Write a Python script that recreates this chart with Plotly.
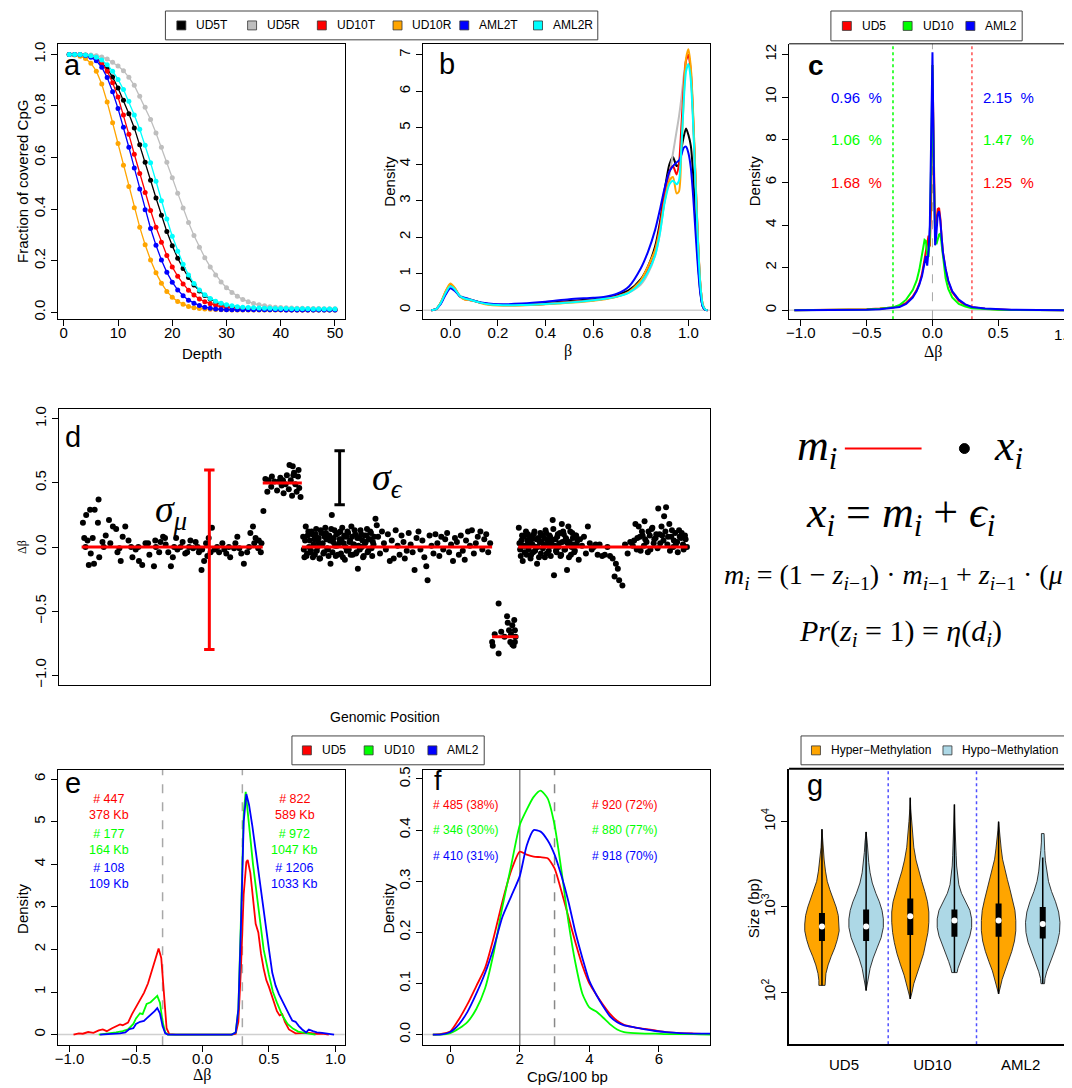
import plotly.graph_objects as go

W, H = 1072, 1088          # target page size
OFF = 8                    # page body margin in the browser
FW, FH = W - OFF, H - OFF  # figure size
F = "Liberation Sans"
SERIF = "Liberation Serif"

# ---------------- panel a : coverage curves ----------------
DEPTH = list(range(1, 51))
COV_UD5T = [1.000,1.000,0.999,0.997,0.992,0.983,0.968,0.945,0.912,0.870,
            0.822,0.770,0.715,0.650,0.582,0.512,0.443,0.376,0.313,0.258,
            0.210,0.170,0.135,0.106,0.083,0.065,0.051,0.040,0.032,0.026,
            0.022,0.019,0.016,0.015,0.014,0.013,0.012,0.012,0.011,0.011,
            0.011,0.010,0.010,0.010,0.010,0.010,0.010,0.010,0.010,0.010]
COV_UD5R = [1.000,1.000,1.000,0.999,0.998,0.995,0.990,0.982,0.970,0.955,
            0.937,0.911,0.880,0.838,0.795,0.748,0.695,0.640,0.582,0.522,
            0.462,0.404,0.348,0.298,0.252,0.212,0.176,0.145,0.118,0.095,
            0.077,0.062,0.050,0.041,0.034,0.029,0.025,0.022,0.020,0.019,
            0.018,0.017,0.016,0.016,0.015,0.015,0.015,0.014,0.014,0.014]
COV_UD10T = [1.000,1.000,0.999,0.997,0.993,0.984,0.966,0.935,0.890,0.835,
             0.765,0.690,0.613,0.538,0.465,0.395,0.330,0.272,0.220,0.176,
             0.140,0.110,0.086,0.067,0.052,0.041,0.033,0.027,0.022,0.019,
             0.017,0.015,0.014,0.013,0.012,0.012,0.011,0.011,0.011,0.010,
             0.010,0.010,0.010,0.010,0.010,0.010,0.010,0.010,0.010,0.010]
COV_UD10R = [1.000,0.998,0.993,0.984,0.966,0.935,0.885,0.815,0.735,0.655,
             0.570,0.488,0.405,0.330,0.262,0.203,0.153,0.113,0.081,0.058,
             0.042,0.031,0.023,0.018,0.015,0.013,0.012,0.011,0.010,0.010,
             0.009,0.009,0.009,0.009,0.009,0.009,0.009,0.009,0.009,0.009,
             0.009,0.009,0.009,0.009,0.009,0.009,0.009,0.009,0.009,0.009]
COV_AML2T = [1.000,1.000,0.999,0.996,0.989,0.975,0.950,0.910,0.855,0.790,
             0.718,0.640,0.560,0.478,0.398,0.325,0.260,0.203,0.155,0.117,
             0.087,0.064,0.047,0.035,0.026,0.020,0.016,0.013,0.011,0.010,
             0.010,0.010,0.010,0.010,0.010,0.010,0.010,0.010,0.010,0.010,
             0.009,0.009,0.009,0.009,0.009,0.009,0.009,0.009,0.009,0.009]
COV_AML2R = [1.000,1.000,1.000,0.998,0.995,0.989,0.978,0.960,0.935,0.903,
             0.864,0.818,0.765,0.710,0.648,0.580,0.508,0.433,0.362,0.295,
             0.237,0.186,0.145,0.112,0.087,0.068,0.054,0.043,0.035,0.029,
             0.025,0.022,0.020,0.019,0.018,0.017,0.016,0.016,0.015,0.015,
             0.015,0.014,0.014,0.014,0.014,0.013,0.013,0.013,0.013,0.013]

# ---------------- panel b : beta densities ----------------
BETA_X = [-0.08,-0.06,-0.04,-0.02,0.0,0.02,0.04,0.06,0.08,0.1,
          0.13,0.16,0.2,0.3,0.4,0.5,0.6,0.65,0.7,0.75,
          0.8,0.83,0.86,0.88,0.9,0.92,0.935,0.95,0.96,0.97,
          0.98,0.99,1.0,1.01,1.02,1.03,1.04,1.05,1.06,1.07,1.08]
DENS_UD5T = [0.0,0.03,0.2,0.48,0.68,0.55,0.38,0.33,0.3,0.26,
             0.2,0.17,0.15,0.15,0.2,0.25,0.3,0.34,0.42,0.55,
             0.85,1.2,1.75,2.4,3.3,4.0,4.2,3.95,4.0,4.4,
             4.75,4.98,4.8,4.5,3.7,2.5,1.35,0.5,0.1,0.01,0.0]
DENS_UD5R = [0.0,0.03,0.2,0.48,0.7,0.58,0.4,0.34,0.3,0.26,
             0.2,0.17,0.15,0.14,0.17,0.22,0.27,0.31,0.37,0.48,
             0.7,1.0,1.5,2.1,3.0,3.7,4.3,4.9,5.3,5.8,
             6.4,6.85,7.0,6.6,5.3,3.6,1.9,0.7,0.15,0.02,0.0]
DENS_UD10T = [0.0,0.03,0.2,0.5,0.7,0.58,0.38,0.3,0.28,0.25,
              0.2,0.16,0.14,0.14,0.17,0.22,0.27,0.31,0.38,0.5,
              0.8,1.15,1.65,2.3,3.2,3.8,3.95,3.72,4.0,5.0,
              6.1,6.85,7.0,6.5,5.2,3.5,1.9,0.7,0.15,0.02,0.0]
DENS_UD10R = [0.0,0.03,0.22,0.52,0.73,0.6,0.38,0.29,0.28,0.25,
              0.19,0.15,0.13,0.13,0.16,0.2,0.26,0.3,0.37,0.5,
              0.82,1.2,1.65,2.2,3.0,3.55,3.65,3.2,3.25,4.3,
              5.8,6.9,7.15,6.65,5.35,3.6,1.95,0.72,0.15,0.02,0.0]
DENS_AML2T = [0.0,0.03,0.17,0.42,0.6,0.52,0.38,0.34,0.3,0.26,
              0.21,0.18,0.16,0.18,0.23,0.3,0.34,0.37,0.45,0.65,
              1.15,1.6,2.2,2.75,3.35,3.8,3.95,4.05,4.1,4.25,
              4.45,4.48,4.3,3.9,3.1,2.1,1.15,0.45,0.1,0.01,0.0]
DENS_AML2R = [0.0,0.03,0.2,0.47,0.66,0.56,0.39,0.32,0.29,0.25,
              0.2,0.16,0.14,0.14,0.17,0.21,0.27,0.31,0.37,0.48,
              0.75,1.05,1.5,2.1,2.95,3.45,3.55,3.45,3.55,4.4,
              5.7,6.55,6.75,6.3,5.05,3.4,1.85,0.68,0.14,0.02,0.0]

# ---------------- panel c : delta-beta densities ----------------
DB_X = [-1.05,-0.8,-0.6,-0.5,-0.4,-0.3,-0.25,-0.2,-0.15,-0.12,-0.1,-0.08,-0.06,-0.05,
        -0.04,-0.03,-0.02,-0.01,0.0,0.01,0.02,0.03,0.04,0.05,0.06,0.07,0.08,0.1,
        0.12,0.15,0.2,0.25,0.3,0.4,0.5,0.6,0.8,1.05]
DB_UD5 = [0,0.01,0.03,0.05,0.08,0.13,0.2,0.35,0.65,0.95,1.25,1.7,2.4,2.8,
          3.2,3.5,3.0,5.0,11.5,6.0,3.5,4.2,4.75,4.8,4.3,3.4,2.7,1.9,
          1.35,0.85,0.45,0.25,0.15,0.07,0.04,0.02,0.01,0]
DB_UD10 = [0,0.005,0.02,0.04,0.07,0.14,0.25,0.5,0.95,1.4,1.9,2.6,3.3,3.25,
           2.6,2.5,3.5,7.0,11.5,6.5,3.6,3.1,3.3,3.55,3.6,3.1,2.4,1.5,
           1.0,0.6,0.3,0.18,0.1,0.05,0.03,0.02,0.01,0]
DB_AML2 = [0,0.005,0.015,0.03,0.05,0.1,0.16,0.3,0.6,0.9,1.2,1.6,2.2,2.55,
           2.1,2.8,4.0,8.0,12.1,7.0,3.05,3.6,4.5,4.65,4.2,3.4,2.7,1.95,
           1.4,0.9,0.5,0.28,0.16,0.08,0.045,0.025,0.01,0]
PCT_LEFT = ["1.68  %", "1.06  %", "0.96  %"]
PCT_RIGHT = ["1.25  %", "1.47  %", "2.15  %"]
PCT_Y = [6, 8, 10]

# ---------------- panel d : segmentation example ----------------
D1_X = [3.7,4.2,4.8,5.5,6.1,6.0,3.9,4.4,4.6,5.4,6.2,4.9,6.7,7.2,7.7,8.3,8.8,9.3,9.5,10.2,
        10.7,11.3,11.8,12.3,12.8,13.3,13.9,14.6,14.9,15.6,16.3,16.8,17.2,17.7,18.2,19.0,19.4,20.0,20.6,21.0,
        21.5,21.9,22.3,22.6,23.0,23.5,23.9,24.6,25.1,25.7,26.3,26.9,27.4,28.0,28.4,28.9,29.4,29.8,30.2,30.6,
        31.0,31.1,31.4,
        4.1,5.2,6.9,7.9,9.0,11.1,12.2,13.7,15.4,16.0,17.5,18.7,19.7,20.2,21.3,22.0,22.8,23.3,24.3,25.4,
        26.1,27.1,27.7,29.2,30.0,30.7,18.0,16.4,14.8,9.8]
D1_Y = [0.19,0.25,0.29,0.29,0.37,0.19,0.07,0.05,-0.14,-0.13,-0.08,-0.05,0.04,0.09,0.21,0.16,0.14,-0.01,-0.11,0.16,
        0.05,-0.08,-0.02,-0.11,-0.14,0.03,-0.06,-0.15,0.0,0.04,0.07,-0.04,-0.15,0.0,-0.02,0.04,-0.05,0.0,-0.01,0.04,
        -0.04,-0.18,-0.11,0.03,0.07,0.15,-0.02,-0.04,0.03,-0.05,-0.08,-0.01,0.08,-0.05,-0.13,-0.04,0.11,0.16,0.07,-0.01,
        -0.04,0.03,0.28,
        0.0,0.07,0.0,0.03,-0.04,0.0,0.0,0.03,-0.04,0.08,-0.08,0.0,-0.04,0.05,0.0,-0.02,-0.07,-0.04,0.0,-0.02,
        0.0,0.03,-0.01,0.0,0.03,0.05,0.07,0.02,0.05,0.08]
D2_X = [31.7,32.2,32.0,32.7,33.1,33.5,34.0,34.2,34.5,35.0,35.4,35.6,35.9,36.1,36.3,36.5,36.7,36.9,37.1,
        35.3,35.8,34.8,33.8,32.6,34.4,36.8,36.0]
D2_Y = [0.53,0.52,0.43,0.55,0.51,0.44,0.54,0.48,0.42,0.56,0.64,0.52,0.63,0.58,0.49,0.43,0.55,0.46,0.39,
        0.45,0.40,0.49,0.51,0.47,0.52,0.60,0.56]
D3_X = [37.5,37.7,37.9,38.1,38.3,38.5,38.7,38.9,39.1,39.3,
        39.5,39.7,39.9,40.1,40.3,40.5,40.7,40.9,41.1,41.3,
        41.5,41.7,41.9,42.1,42.3,42.5,42.7,42.9,43.1,43.3,
        43.5,43.7,43.9,44.1,44.3,44.5,44.7,44.9,45.1,45.3,
        45.5,45.7,45.9,46.1,46.3,46.5,46.7,46.9,47.1,47.3,
        47.5,47.7,47.9,48.1,48.3,48.6,48.8,49.0,49.3,49.6,
        49.9,50.2,50.5,50.8,51.1,51.4,51.7,52.0,52.3,52.6,
        52.9,53.1,53.4,53.7,54.0,54.3,54.6,54.9,55.2,55.5,
        55.8,56.1,56.4,56.6,56.9,57.2,57.5,57.8,58.1,58.4,
        58.7,59.0,59.3,59.6,59.9,60.2,60.5,60.8,61.1,61.4,
        61.7,62.0,62.3,62.5,62.8,63.1,63.4,63.7,64.0,64.3,
        64.7,65.0,65.3,65.6,65.9,66.2,
        37.6,37.8,38.0,38.2,38.4,38.6,38.8,39.0,39.2,39.4,
        39.6,39.8,40.0,40.2,40.4,40.6,40.8,41.0,41.2,41.4,
        41.6,41.8,42.0,42.2,42.4,42.6,42.8,43.0,43.2,43.4,
        43.6,43.8,44.0,44.2,44.4,44.6,44.8,45.0,45.2,45.4,
        45.6,45.8,46.0,46.2,46.4,46.6,46.8,47.0,47.2,47.4,
        47.6,47.8,48.0,48.2,48.4]
D3_Y = [0.08,-0.08,0.16,-0.05,0.12,0.05,-0.03,0.1,0.02,-0.06,
        0.14,0.0,0.07,-0.09,0.11,0.03,-0.04,0.15,0.06,-0.02,
        0.09,-0.13,0.25,0.04,0.13,-0.07,0.01,0.11,0.06,-0.05,
        0.15,0.03,-0.1,0.08,0.12,-0.02,0.05,0.16,-0.06,0.02,
        0.1,-0.04,-0.17,0.07,0.13,0.0,-0.08,0.09,0.04,0.14,
        -0.03,0.06,0.11,-0.07,0.02,0.22,0.17,0.08,-0.05,0.12,
        0.03,-0.02,0.1,-0.11,0.05,-0.09,0.13,0.01,-0.06,0.09,
        0.04,-0.09,-0.03,0.11,0.02,-0.04,-0.18,0.07,0.12,-0.02,
        0.05,-0.08,-0.15,-0.26,0.09,0.01,-0.05,0.1,0.03,-0.07,
        0.08,-0.02,0.06,0.11,-0.04,0.02,-0.11,0.07,0.04,-0.06,
        0.09,-0.03,-0.10,0.05,0.12,0.01,0.13,-0.05,0.03,0.08,
        0.12,-0.02,0.06,0.1,-0.04,0.03,
        -0.02,0.05,-0.07,0.09,0.0,-0.04,0.12,-0.08,0.06,0.1,
        -0.03,0.04,-0.09,0.13,0.02,-0.05,0.08,0.11,-0.01,-0.07,
        0.05,0.14,-0.04,0.07,0.01,0.1,-0.06,0.03,0.12,0.06,
        -0.08,0.09,0.0,-0.03,0.11,0.04,-0.06,0.08,0.02,0.13,
        -0.05,0.07,0.01,-0.02,0.1,0.05,-0.07,0.03,0.09,-0.04,
        0.06,0.12,-0.01,0.04,0.08]
D4_X = [67.5,66.5,66.6,66.9,67.5,67.9,68.8,68.9,69.1,69.4,69.6,69.9,70.0,70.1,69.8,69.3,68.4,69.6,70.0]
D4_Y = [-0.44,-0.74,-0.77,-0.68,-0.83,-0.66,-0.54,-0.59,-0.65,-0.68,-0.76,-0.57,-0.65,-0.70,-0.77,-0.74,-0.70,-0.61,-0.74]
D5_X = [70.6,70.8,71.0,71.2,71.4,71.6,71.8,72.0,72.2,72.4,
        72.6,72.8,73.0,73.2,73.4,73.6,73.8,74.0,74.2,74.4,
        74.6,74.8,75.0,75.2,75.4,75.6,75.8,76.0,76.2,76.4,
        76.6,76.8,77.0,77.2,77.4,77.6,77.8,78.0,78.2,78.4,
        78.6,78.8,79.0,79.2,79.4,79.6,79.8,80.0,80.3,80.6,
        80.9,81.2,81.5,81.8,82.1,82.4,82.7,83.0,83.4,83.8,
        84.2,84.6,85.0,85.3,85.5,85.8,86.0,86.5,86.9,87.3,
        87.7,88.1,88.5,88.8,89.0,89.3,89.6,89.9,90.2,90.5,
        90.8,91.1,91.4,91.7,92.0,92.3,92.6,92.9,93.2,93.5,
        93.8,94.1,94.4,94.7,95.0,95.3,95.6,95.9,96.2,96.4,
        70.7,70.9,71.1,71.3,71.5,71.7,71.9,72.1,72.3,72.5,
        72.7,72.9,73.1,73.3,73.5,73.7,73.9,74.1,74.3,74.5,
        74.7,74.9,75.1,75.3,75.5,75.7,75.9,76.1,76.3,76.5,
        76.7,76.9,77.1,77.3,77.5,77.7,77.9,78.1,78.3,78.5,
        78.7,78.9,79.1,79.3,79.5,
        88.3,88.7,89.2,89.5,89.8,90.0,90.4,90.7,91.0,91.3,
        91.6,91.9,92.2,92.5,92.8,93.1,93.4,93.7,94.0,94.3,
        94.6,94.9,95.2,95.5,95.8,96.1]
D5_Y = [0.15,-0.02,0.05,-0.11,0.08,0.01,-0.06,0.1,0.03,-0.09,
        0.06,-0.04,0.12,0.0,-0.13,0.07,0.04,-0.05,0.09,0.02,
        -0.08,0.11,0.05,-0.03,0.08,0.01,0.21,-0.22,0.06,-0.04,
        0.1,0.03,-0.07,0.18,0.12,-0.02,0.07,-0.18,0.16,0.04,
        -0.06,0.11,0.02,-0.03,0.09,0.05,-0.1,0.06,0.01,0.08,
        -0.05,0.16,0.03,-0.02,0.0,0.02,-0.06,0.02,-0.07,-0.06,
        0.0,-0.07,-0.09,-0.23,-0.13,-0.17,-0.26,-0.30,0.02,-0.05,
        0.04,0.01,0.18,0.07,0.16,-0.03,0.09,0.20,0.04,0.12,
        -0.02,0.15,0.06,0.1,0.3,0.03,0.09,0.24,0.31,0.08,
        -0.03,0.13,0.05,0.02,-0.04,0.08,0.11,-0.02,0.06,0.0,
        0.03,-0.07,0.09,0.01,-0.04,0.12,0.05,-0.02,0.08,-0.06,
        0.02,0.1,-0.03,0.06,0.0,-0.08,0.11,0.04,-0.01,0.07,
        0.13,-0.05,0.02,0.09,-0.07,0.05,0.14,0.01,-0.03,0.08,
        0.0,0.11,-0.06,0.04,0.1,-0.02,0.06,0.03,-0.08,0.12,
        0.0,0.07,-0.04,0.09,0.02,
        0.05,-0.02,0.08,0.12,0.01,0.06,-0.04,0.09,0.14,0.03,
        0.07,-0.01,0.1,0.16,0.05,0.12,0.02,0.18,0.08,0.0,
        0.11,0.04,0.13,0.07,0.02,0.09]
SEG_START = [3.5, 31.3, 37.3, 66.5, 70.5]
SEG_END = [31.3, 37.3, 66.5, 70.5, 96.5]
SEG_MEAN = [0.0, 0.5, 0.0, -0.7, 0.0]
SIGMA_MU = [23.1, -0.8, 0.6]     # position, low, high
SIGMA_EPS = [43.1, 0.33, 0.75]

# ---------------- panel e : DMR delta-beta densities ----------------
E_UD5_X = [-0.97,-0.93,-0.9,-0.86,-0.82,-0.78,-0.75,-0.72,-0.68,-0.65,-0.62,-0.6,-0.56,-0.53,-0.5,-0.47,
           -0.44,-0.41,-0.38,-0.35,-0.33,-0.31,-0.29,-0.27,-0.25,-0.2,0.0,0.22,0.25,0.27,0.29,0.31,
           0.33,0.34,0.36,0.38,0.4,0.42,0.44,0.46,0.48,0.5,0.53,0.56,0.58,0.6,0.62,0.65,0.7,0.75,
           0.8,0.85,0.9,0.95]
E_UD5_Y = [0.0,0.03,0.02,0.06,0.04,0.1,0.12,0.08,0.15,0.2,0.24,0.22,0.28,0.48,0.65,0.8,
           0.98,1.2,1.5,1.82,2.02,1.8,0.9,0.15,0.01,0.0,0.0,0.0,0.02,0.3,1.6,3.3,
           4.05,4.1,3.8,3.2,2.6,2.4,1.9,1.55,1.28,1.12,0.85,0.55,0.45,0.48,0.3,0.12,0.03,0.03,
           0.04,0.02,0.02,0.0]
E_UD10_X = [-0.78,-0.7,-0.65,-0.6,-0.56,-0.52,-0.5,-0.47,-0.45,-0.42,-0.39,-0.36,-0.34,-0.32,-0.3,-0.28,
            -0.26,-0.2,0.0,0.22,0.25,0.27,0.29,0.31,0.325,0.34,0.36,0.38,0.4,0.43,0.46,0.5,
            0.53,0.56,0.6,0.64,0.68,0.72,0.76,0.8,0.85]
E_UD10_Y = [0.0,0.02,0.05,0.08,0.12,0.25,0.38,0.5,0.48,0.72,0.76,0.85,0.91,0.75,0.3,0.05,
            0.0,0.0,0.0,0.0,0.05,0.6,2.8,5.2,5.7,5.2,4.6,4.0,3.5,2.8,2.0,1.4,
            1.0,0.75,0.45,0.25,0.14,0.07,0.04,0.02,0.0]
E_AML2_X = [-0.77,-0.7,-0.62,-0.58,-0.55,-0.52,-0.5,-0.47,-0.44,-0.42,-0.39,-0.36,-0.34,-0.32,-0.3,-0.28,
            -0.26,-0.2,0.0,0.22,0.25,0.27,0.29,0.31,0.33,0.35,0.375,0.4,0.425,0.45,0.475,0.5,
            0.525,0.55,0.575,0.6,0.625,0.65,0.675,0.7,0.725,0.75,0.78,0.8,0.83,0.86,0.9,0.95,0.99]
E_AML2_Y = [0.0,0.01,0.03,0.05,0.13,0.15,0.25,0.3,0.32,0.38,0.46,0.55,0.62,0.5,0.2,0.03,
            0.0,0.0,0.0,0.0,0.05,0.6,2.6,5.0,5.65,5.4,4.9,4.3,3.7,3.1,2.5,2.0,
            1.45,1.15,0.95,0.78,0.64,0.48,0.33,0.3,0.2,0.12,0.05,0.12,0.08,0.05,0.04,0.02,0.0]
E_HYPO_COUNT = ["# 447", "# 177", "# 108"]
E_HYPO_SIZE = ["378 Kb", "164 Kb", "109 Kb"]
E_HYPER_COUNT = ["# 822", "# 972", "# 1206"]
E_HYPER_SIZE = ["589 Kb", "1047 Kb", "1033 Kb"]
E_TEXT_Y = [5.335, 4.535, 3.735]

# ---------------- panel f : CpG density ----------------
F_X = [-0.5,-0.3,0,0.25,0.5,0.75,1.0,1.25,1.5,1.75,2.0,2.2,2.4,2.6,2.8,3.0,3.2,3.4,3.6,3.8,
       4.0,4.2,4.4,4.6,4.8,5.0,5.3,5.6,5.9,6.2,6.6,7.0,7.5]
F_UD5 = [0.0,0.001,0.006,0.03,0.06,0.095,0.13,0.19,0.26,0.32,0.358,0.352,0.348,0.347,0.345,0.325,0.28,0.23,0.18,0.135,
         0.1,0.078,0.058,0.04,0.027,0.019,0.014,0.011,0.008,0.005,0.003,0.002,0.001]
F_UD10 = [0.0,0.0,0.003,0.012,0.025,0.05,0.09,0.16,0.25,0.33,0.41,0.44,0.465,0.477,0.462,0.41,0.32,0.22,0.14,0.08,
          0.053,0.045,0.033,0.02,0.01,0.005,0.003,0.002,0.002,0.001,0.001,0.001,0.0]
F_AML2 = [0.0,0.0,0.005,0.02,0.045,0.08,0.12,0.17,0.23,0.27,0.31,0.37,0.4,0.397,0.38,0.352,0.31,0.26,0.2,0.15,
          0.105,0.078,0.055,0.035,0.024,0.018,0.014,0.01,0.007,0.005,0.003,0.002,0.002]
F_LOW = ["# 485 (38%)", "# 346 (30%)", "# 410 (31%)"]
F_HIGH = ["# 920 (72%)", "# 880 (77%)", "# 918 (70%)"]
F_TEXT_Y = [0.45, 0.40, 0.35]

# ---------------- panel g : DMR size violins (log10 bp) ----------------
G_GROUPS = ["UD5", "UD10", "AML2"]
G_POS = [1, 2, 3, 4, 5, 6]
G_LEVELS = [
    [2.08,2.14,2.22,2.32,2.42,2.52,2.62,2.72,2.8,2.9,3.0,3.1,3.2,3.3,3.42,3.55,3.7,3.91],
    [2.02,2.1,2.18,2.28,2.4,2.52,2.64,2.76,2.86,2.96,3.06,3.16,3.28,3.4,3.52,3.64,3.76,3.88],
    [1.92,2.0,2.1,2.2,2.32,2.45,2.58,2.7,2.82,2.94,3.06,3.18,3.3,3.42,3.55,3.7,3.85,4.0,4.15,4.28],
    [2.23,2.28,2.36,2.46,2.56,2.66,2.76,2.86,2.96,3.06,3.16,3.26,3.36,3.48,3.6,3.72,3.85,4.0,4.2],
    [1.98,2.06,2.15,2.25,2.36,2.48,2.6,2.72,2.84,2.96,3.08,3.2,3.32,3.44,3.56,3.68,3.8,3.9,4.0],
    [2.1,2.16,2.24,2.34,2.46,2.58,2.7,2.82,2.94,3.06,3.18,3.3,3.42,3.54,3.66,3.76,3.86],
]
G_WIDTHS = [
    [0.07,0.07,0.09,0.14,0.21,0.29,0.35,0.39,0.39,0.37,0.32,0.25,0.18,0.12,0.08,0.05,0.02,0.0],
    [0.0,0.03,0.06,0.09,0.16,0.25,0.34,0.39,0.39,0.36,0.3,0.22,0.14,0.09,0.06,0.04,0.025,0.0],
    [0.0,0.04,0.08,0.14,0.22,0.3,0.36,0.4,0.42,0.42,0.39,0.33,0.26,0.19,0.13,0.08,0.05,0.03,0.01,0.0],
    [0.06,0.08,0.13,0.2,0.28,0.35,0.39,0.39,0.35,0.26,0.16,0.1,0.07,0.05,0.04,0.03,0.015,0.008,0.0],
    [0.0,0.04,0.08,0.14,0.22,0.3,0.36,0.39,0.39,0.37,0.32,0.26,0.2,0.14,0.09,0.06,0.03,0.015,0.0],
    [0.04,0.05,0.09,0.16,0.25,0.33,0.38,0.39,0.36,0.29,0.2,0.13,0.09,0.06,0.045,0.03,0.03],
]
G_Q1 = [2.6, 2.6, 2.67, 2.65, 2.65, 2.63]
G_Q3 = [2.93, 2.97, 3.1, 2.97, 3.04, 3.0]
G_MED = [2.77, 2.77, 2.89, 2.84, 2.84, 2.8]
G_MIN = [2.08, 2.02, 1.92, 2.23, 1.98, 2.1]
G_MAX = [3.91, 3.88, 4.28, 4.2, 4.0, 3.58]
G_COLORS = ["orange", "lightblue"] * 3

# =====================================================================
def fx(p):
    return (p - OFF) / FW


def fy(p):
    return 1 - (p - OFF) / FH


fig = go.Figure()
shapes, annots = [], []


def txt(x, y, s, size=15, color="black", family=F, xa="center", ya="middle", angle=0):
    annots.append(dict(x=fx(x), y=fy(y), xref="paper", yref="paper", text=s, showarrow=False,
                       xanchor=xa, yanchor=ya, textangle=angle,
                       font=dict(family=family, size=size, color=color)))


def dtxt(xr, yr, x, y, s, size=13, color="black", xa="center", family=F):
    annots.append(dict(x=x, y=y, xref=xr, yref=yr, text=s, showarrow=False, xanchor=xa,
                       yanchor="middle", font=dict(family=family, size=size, color=color)))


def xaxis(l, r, rng, anchor, **kw):
    d = dict(domain=[fx(l), min(fx(r), 1.0)], range=rng, anchor=anchor, showline=True, linecolor="black",
             linewidth=1, mirror=True, ticks="outside", ticklen=6, tickwidth=1, tickcolor="black",
             showgrid=False, zeroline=False, ticklabelstandoff=-6,
             tickfont=dict(family=F, size=15, color="black"))
    d.update(kw)
    return d


def yaxis(t, b, rng, anchor, **kw):
    d = dict(domain=[fy(b), fy(t)], range=rng, anchor=anchor, showline=True, linecolor="black",
             linewidth=1, mirror=True, ticks="outside", ticklen=6, tickwidth=1, tickcolor="black",
             showgrid=False, zeroline=False, tickangle=-90,
             tickfont=dict(family=F, size=15, color="black"))
    d.update(kw)
    return d


def legend(x0, x1, y0, y1, items, size=12):
    shapes.append(dict(type="rect", xref="paper", yref="paper", x0=fx(x0), x1=fx(x1), y0=fy(y1), y1=fy(y0),
                       line=dict(color="#444", width=1), fillcolor="white"))
    yc = (y0 + y1) / 2
    for sx, lab, col in items:
        shapes.append(dict(type="rect", xref="paper", yref="paper", x0=fx(sx - 4.5), x1=fx(sx + 4.5),
                           y0=fy(yc + 4.5), y1=fy(yc - 4.5), line=dict(color="#333", width=0.8),
                           fillcolor=col))
        txt(sx + 13, yc, lab, size=size, xa="left")


# ---------------- a ----------------
A_SERIES = [("UD5T", COV_UD5T, "black"), ("UD5R", COV_UD5R, "#BEBEBE"), ("UD10T", COV_UD10T, "red"),
            ("UD10R", COV_UD10R, "orange"), ("AML2T", COV_AML2T, "blue"), ("AML2R", COV_AML2R, "cyan")]
for name, ys, col in A_SERIES:
    fig.add_trace(go.Scatter(x=DEPTH, y=ys, mode="lines+markers", name=name, xaxis="x", yaxis="y",
                             line=dict(color=col, width=1.3), marker=dict(color=col, size=5)))

# ---------------- b ----------------
B_SERIES = [(DENS_UD5T, "black"), (DENS_UD5R, "#BEBEBE"), (DENS_UD10T, "red"),
            (DENS_UD10R, "orange"), (DENS_AML2T, "blue"), (DENS_AML2R, "cyan")]
shapes.append(dict(type="line", xref="x2 domain", yref="y2", x0=0, x1=1, y0=0, y1=0,
                   line=dict(color="#D0D0D0", width=1.5), layer="below"))
for ys, col in B_SERIES:
    fig.add_trace(go.Scatter(x=BETA_X, y=ys, mode="lines", xaxis="x2", yaxis="y2",
                             line=dict(color=col, width=2, shape="spline", smoothing=0.7)))

# ---------------- c ----------------
shapes.append(dict(type="line", xref="x3 domain", yref="y3", x0=0, x1=1, y0=0, y1=0,
                   line=dict(color="#D0D0D0", width=1.5), layer="below"))
shapes.append(dict(type="line", xref="x3", yref="y3 domain", x0=0, x1=0, y0=0, y1=1,
                   line=dict(color="#A8A8A8", width=1, dash="dash"), layer="below"))
shapes.append(dict(type="line", xref="x3", yref="y3 domain", x0=-0.3, x1=-0.3, y0=0, y1=1,
                   line=dict(color="#00FF00", width=1.5, dash="dot"), layer="below"))
shapes.append(dict(type="line", xref="x3", yref="y3 domain", x0=0.3, x1=0.3, y0=0, y1=1,
                   line=dict(color="#FF5050", width=1.5, dash="dot"), layer="below"))
C_COLORS = ["red", "#00FF00", "blue"]
for ys, col in zip([DB_UD5, DB_UD10, DB_AML2], C_COLORS):
    fig.add_trace(go.Scatter(x=DB_X, y=ys, mode="lines", xaxis="x3", yaxis="y3",
                             line=dict(color=col, width=2)))
for s, yv, col in zip(PCT_LEFT, PCT_Y, C_COLORS):
    dtxt("x3", "y3", -0.58, yv, s, size=15, color=col)
for s, yv, col in zip(PCT_RIGHT, PCT_Y, C_COLORS):
    dtxt("x3", "y3", 0.58, yv, s, size=15, color=col)
shapes.append(dict(type="line", xref="x3 domain", yref="y3 domain", x0=0, x1=1, y0=1, y1=1,
                   line=dict(color="black", width=1)))
# last tick label of panel c sits on the page edge (partly cut, as in the original)
annots.append(dict(x=1.0, y=fy(333), xref="x3", yref="paper", text="1.0", showarrow=False,
                   xanchor="center", yanchor="middle", font=dict(family=F, size=15, color="black")))

# ---------------- d ----------------
for xs, ys in [(D1_X, D1_Y), (D2_X, D2_Y), (D3_X, D3_Y), (D4_X, D4_Y), (D5_X, D5_Y)]:
    fig.add_trace(go.Scatter(x=xs, y=ys, mode="markers", xaxis="x4", yaxis="y4",
                             marker=dict(color="black", size=6)))
for s0, s1, m in zip(SEG_START, SEG_END, SEG_MEAN):
    fig.add_trace(go.Scatter(x=[s0, s1], y=[m, m], mode="lines", xaxis="x4", yaxis="y4",
                             line=dict(color="red", width=3)))
for (px, lo, hi), col in [(SIGMA_MU, "red"), (SIGMA_EPS, "black")]:
    fig.add_trace(go.Scatter(x=[px, px, None, px - 0.8, px + 0.8, None, px - 0.8, px + 0.8],
                             y=[lo, hi, None, lo, lo, None, hi, hi], mode="lines",
                             xaxis="x4", yaxis="y4", line=dict(color=col, width=3)))
dtxt("x4", "y4", 17.2, 0.27, "<i>σ</i><sub><i>μ</i></sub>", size=38, family=SERIF)
dtxt("x4", "y4", 50.5, 0.52, "<i>σ</i><sub><i>ϵ</i></sub>", size=38, family=SERIF)

# ---------------- e ----------------
shapes.append(dict(type="line", xref="x5 domain", yref="y5", x0=0, x1=1, y0=0, y1=0,
                   line=dict(color="#D0D0D0", width=1.5), layer="below"))
for xv in [-0.3, 0.3]:
    shapes.append(dict(type="line", xref="x5", yref="y5 domain", x0=xv, x1=xv, y0=0, y1=1,
                       line=dict(color="#A8A8A8", width=1.5, dash="dash"), layer="below"))
for xs, ys, col in [(E_UD5_X, E_UD5_Y, "red"), (E_UD10_X, E_UD10_Y, "#00FF00"), (E_AML2_X, E_AML2_Y, "blue")]:
    fig.add_trace(go.Scatter(x=xs, y=ys, mode="lines", xaxis="x5", yaxis="y5",
                             line=dict(color=col, width=1.8)))
for i, col in enumerate(C_COLORS):
    dtxt("x5", "y5", -0.705, E_TEXT_Y[i], E_HYPO_COUNT[i] + "<br>" + E_HYPO_SIZE[i], size=12.5, color=col)
    dtxt("x5", "y5", 0.695, E_TEXT_Y[i], E_HYPER_COUNT[i] + "<br>" + E_HYPER_SIZE[i], size=12.5, color=col)

# ---------------- f ----------------
shapes.append(dict(type="line", xref="x6 domain", yref="y6", x0=0, x1=1, y0=0, y1=0,
                   line=dict(color="#D0D0D0", width=1.5), layer="below"))
shapes.append(dict(type="line", xref="x6", yref="y6 domain", x0=2, x1=2, y0=0, y1=1,
                   line=dict(color="#888888", width=1.5), layer="below"))
shapes.append(dict(type="line", xref="x6", yref="y6 domain", x0=3, x1=3, y0=0, y1=1,
                   line=dict(color="#888888", width=1.5, dash="dash"), layer="below"))
for ys, col in zip([F_UD5, F_UD10, F_AML2], C_COLORS):
    fig.add_trace(go.Scatter(x=F_X, y=ys, mode="lines", xaxis="x6", yaxis="y6",
                             line=dict(color=col, width=1.8, shape="spline", smoothing=0.6)))
for s, yv, col in zip(F_LOW, F_TEXT_Y, C_COLORS):
    dtxt("x6", "y6", -0.55, yv, s, size=12, color=col, xa="left")
for s, yv, col in zip(F_HIGH, F_TEXT_Y, C_COLORS):
    dtxt("x6", "y6", 4.03, yv, s, size=12, color=col, xa="left")

# ---------------- g ----------------
for xv in [2.5, 4.5]:
    shapes.append(dict(type="line", xref="x7", yref="y7 domain", x0=xv, x1=xv, y0=0, y1=1,
                       line=dict(color="#5050FF", width=1.5, dash="dot"), layer="below"))
for i in range(6):
    c = G_POS[i]
    L, Wd = G_LEVELS[i], G_WIDTHS[i]
    xs = [c - w for w in Wd] + [c + w for w in reversed(Wd)] + [c - Wd[0]]
    ys = [10 ** l for l in L] + [10 ** l for l in reversed(L)] + [10 ** L[0]]
    fig.add_trace(go.Scatter(x=xs, y=ys, mode="lines", fill="toself", fillcolor=G_COLORS[i],
                             line=dict(color="#222", width=0.9), xaxis="x7", yaxis="y7"))
    fig.add_trace(go.Scatter(x=[c, c], y=[10 ** G_MIN[i], 10 ** G_MAX[i]], mode="lines",
                             line=dict(color="black", width=1.5), xaxis="x7", yaxis="y7"))
    fig.add_trace(go.Scatter(x=[c, c], y=[10 ** G_Q1[i], 10 ** G_Q3[i]], mode="lines",
                             line=dict(color="black", width=6), xaxis="x7", yaxis="y7"))
    fig.add_trace(go.Scatter(x=[c], y=[10 ** G_MED[i]], mode="markers",
                             marker=dict(color="white", size=6), xaxis="x7", yaxis="y7"))
shapes.append(dict(type="line", xref="x7 domain", yref="y7 domain", x0=0, x1=1, y0=1, y1=1,
                   line=dict(color="black", width=2)))

# ---------------- axes ----------------
lay = dict(
    xaxis=xaxis(55, 343, [-1.1, 51.8], "y", tickvals=[0, 10, 20, 30, 40, 50]),
    yaxis=yaxis(41, 318, [-0.027, 1.041], "x", tickvals=[0, 0.2, 0.4, 0.6, 0.8, 1.0], tickformat=".1f"),
    xaxis2=xaxis(422, 710, [-0.113, 1.092], "y2", tickvals=[0, 0.2, 0.4, 0.6, 0.8, 1.0], tickformat=".1f"),
    yaxis2=yaxis(41, 318, [-0.25, 7.3], "x2", tickvals=list(range(8))),
    xaxis3=xaxis(789, 1072, [-1.09, 1.053], "y3", tickvals=[-1, -0.5, 0, 0.5, 1],
                 ticktext=["−1.0", "−0.5", "0.0", "0.5", ""], mirror=False),
    yaxis3=yaxis(41, 318, [-0.42, 12.5], "x3", tickvals=[0, 2, 4, 6, 8, 10, 12], mirror=False),
    xaxis4=xaxis(56, 710, [0, 100], "y4", showticklabels=False, ticks=""),
    yaxis4=yaxis(408, 686, [-1.078, 1.078], "x4", tickvals=[-1, -0.5, 0, 0.5, 1], tickformat=".1f"),
    xaxis5=xaxis(55, 343, [-1.088, 1.07], "y5", tickvals=[-1, -0.5, 0, 0.5, 1], tickformat=".1f"),
    yaxis5=yaxis(771, 1048, [-0.25, 6.22], "x5", tickvals=list(range(7))),
    xaxis6=xaxis(422, 710, [-0.77, 7.48], "y6", tickvals=[0, 2, 4, 6]),
    yaxis6=yaxis(771, 1048, [-0.0208, 0.518], "x6", tickvals=[0, 0.1, 0.2, 0.3, 0.4, 0.5], tickformat=".1f"),
    xaxis7=xaxis(789, 1072, [0.255, 6.64], "y7", tickvals=[1.5, 3.5, 5.5], ticktext=G_GROUPS,
                 ticks="", mirror=False, linewidth=2, ticklabelstandoff=6),
    yaxis7=yaxis(770, 1047, [1.39, 4.62], "x7", type="log", tickvals=[100, 1000, 10000],
                 ticktext=["10<sup>2</sup>", "10<sup>3</sup>", "10<sup>4</sup>"], mirror=False, linewidth=2),
)

# axis titles
txt(19, 179, "Fraction of covered CpG", size=15, angle=-90)
txt(200, 352, "Depth", size=15)
txt(387, 179, "Density", size=15, angle=-90)
txt(567, 350, "β", size=16, family=SERIF)
txt(754, 179, "Density", size=15, angle=-90)
txt(933, 351, "Δβ", size=16, family=SERIF)
txt(19, 547, "Δβ", size=12, angle=-90, family=SERIF)
txt(383, 718, "Genomic Position", size=14)
txt(20, 910, "Density", size=15, angle=-90)
txt(200, 1078, "Δβ", size=16, family=SERIF)
txt(387, 910, "Density", size=15, angle=-90)
txt(567, 1079, "CpG/100 bp", size=15)
txt(754, 910, "Size (bp)", size=15, angle=-90)

# panel letters
txt(59, 62, "a", size=29, xa="left")
txt(436, 61, "b", size=29, xa="left")
txt(806, 63, "<b>c</b>", size=28, xa="left")
txt(60, 436, "d", size=29, xa="left")
txt(60, 784, "e", size=29, xa="left")
txt(431, 782, "f", size=27, xa="left")
txt(805, 786, "g", size=29, xa="left")

# model equations
txt(795, 448, "<i>m</i><sub><i>i</i></sub>", size=44, family=SERIF, xa="left")
shapes.append(dict(type="line", xref="paper", yref="paper", x0=fx(845), x1=fx(922), y0=fy(448), y1=fy(448),
                   line=dict(color="red", width=2)))
shapes.append(dict(type="circle", xref="paper", yref="paper", x0=fx(960), x1=fx(970), y0=fy(453), y1=fy(443),
                   fillcolor="black", line=dict(color="black", width=1)))
txt(993, 448, "<i>x</i><sub><i>i</i></sub>", size=44, family=SERIF, xa="left")
txt(901, 515, "<i>x</i><sub><i>i</i></sub> = <i>m</i><sub><i>i</i></sub> + <i>ϵ</i><sub><i>i</i></sub>",
    size=44, family=SERIF)
txt(722, 577, "<i>m</i><sub><i>i</i></sub> = (1 − <i>z</i><sub><i>i</i>−1</sub>) · <i>m</i><sub><i>i</i>−1</sub>"
    " + <i>z</i><sub><i>i</i>−1</sub> · (<i>μ</i>", size=28, family=SERIF, xa="left")
txt(901, 633, "<i>Pr</i>(<i>z</i><sub><i>i</i></sub> = 1) = <i>η</i>(<i>d</i><sub><i>i</i></sub>)",
    size=30, family=SERIF)

# legends
legend(163, 597, 8, 37, [(179, "UD5T", "black"), (250, "UD5R", "#BEBEBE"), (320, "UD10T", "red"),
                         (396, "UD10R", "orange"), (463, "AML2T", "blue"), (537, "AML2R", "cyan")])
legend(831, 1023, 8, 38, [(847, "UD5", "red"), (908, "UD10", "#00FF00"), (971, "AML2", "blue")])
legend(290, 483, 737, 766, [(305, "UD5", "red"), (367, "UD10", "#00FF00"), (431, "AML2", "blue")])
legend(801, 1071, 737, 766, [(816, "Hyper−Methylation", "orange"), (948, "Hypo−Methylation", "lightblue")])

fig.update_layout(width=FW, height=FH, margin=dict(l=0, r=0, t=0, b=0), showlegend=False,
                  plot_bgcolor="white", paper_bgcolor="white", shapes=shapes, annotations=annots, **lay)
fig.write_html("out.html")
